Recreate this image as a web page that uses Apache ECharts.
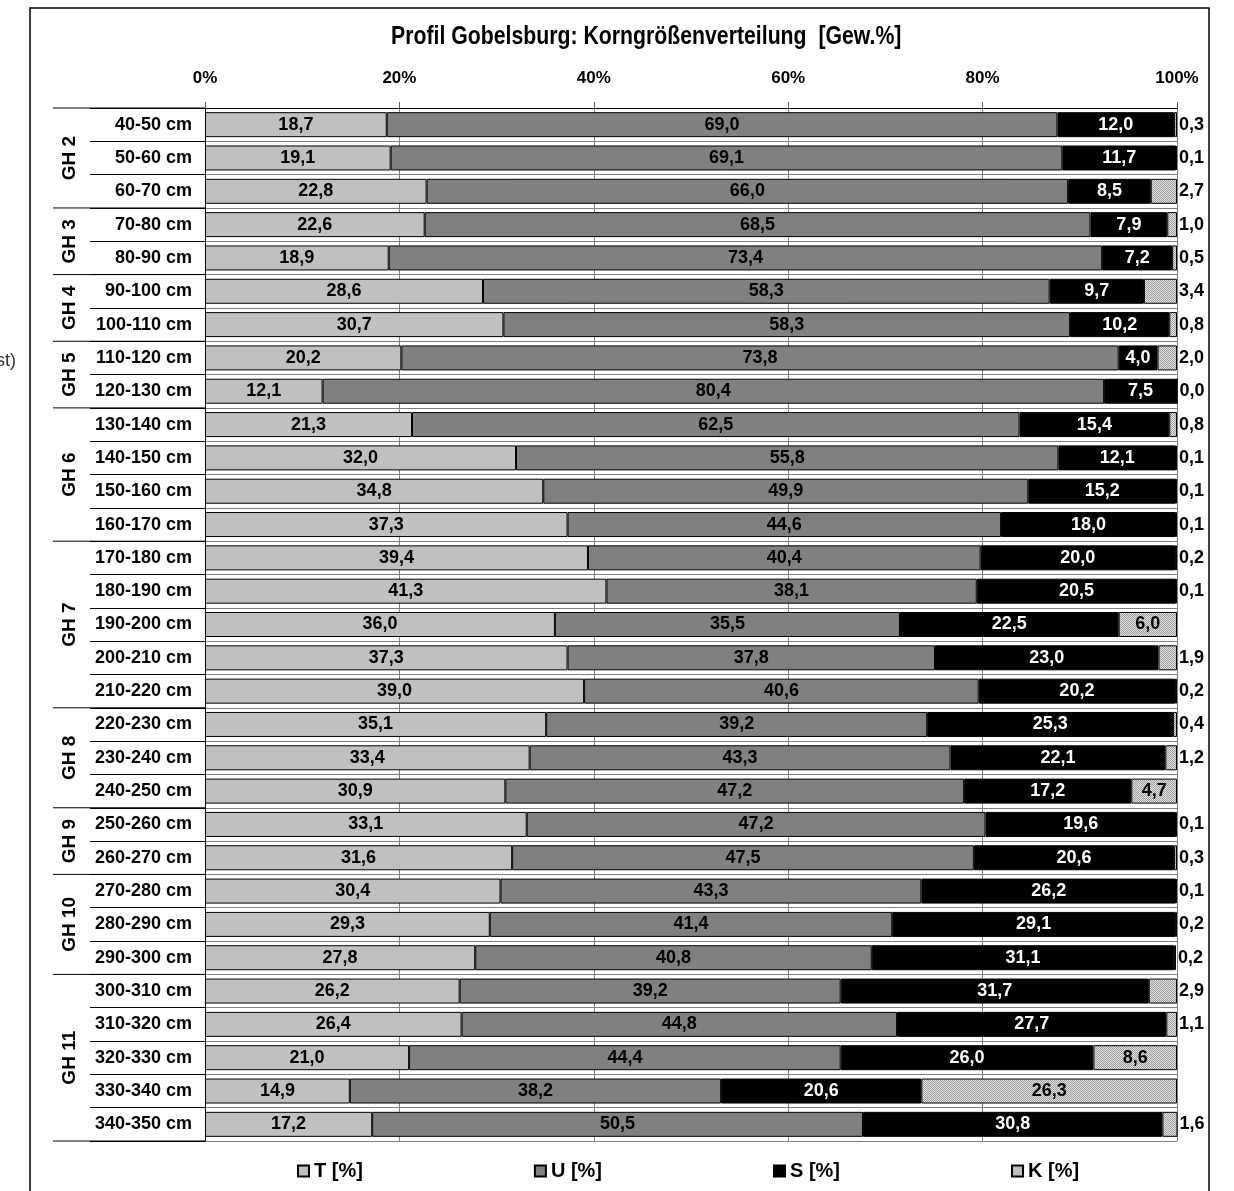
<!DOCTYPE html>
<html><head><meta charset="utf-8">
<script src="https://cdn.jsdelivr.net/npm/echarts@6/dist/echarts.min.js"></script>
<style>html,body{margin:0;padding:0;background:#fff}#c{width:1234px;height:1191px}</style>
</head><body><div id="c"></div>
<script>
const categories = ['40-50 cm','50-60 cm','60-70 cm','70-80 cm','80-90 cm','90-100 cm','100-110 cm','110-120 cm','120-130 cm','130-140 cm','140-150 cm','150-160 cm','160-170 cm','170-180 cm','180-190 cm','190-200 cm','200-210 cm','210-220 cm','220-230 cm','230-240 cm','240-250 cm','250-260 cm','260-270 cm','270-280 cm','280-290 cm','290-300 cm','300-310 cm','310-320 cm','320-330 cm','330-340 cm','340-350 cm'];
const groupNames = ['GH 2','GH 3','GH 4','GH 5','GH 6','GH 7','GH 8','GH 9','GH 10','GH 11'];
const groupSizes = [3,2,2,2,4,5,3,2,3,5];
const T = [18.7,19.1,22.8,22.6,18.9,28.6,30.7,20.2,12.1,21.3,32.0,34.8,37.3,39.4,41.3,36.0,37.3,39.0,35.1,33.4,30.9,33.1,31.6,30.4,29.3,27.8,26.2,26.4,21.0,14.9,17.2];
const U = [69.0,69.1,66.0,68.5,73.4,58.3,58.3,73.8,80.4,62.5,55.8,49.9,44.6,40.4,38.1,35.5,37.8,40.6,39.2,43.3,47.2,47.2,47.5,43.3,41.4,40.8,39.2,44.8,44.4,38.2,50.5];
const S = [12.0,11.7,8.5,7.9,7.2,9.7,10.2,4.0,7.5,15.4,12.1,15.2,18.0,20.0,20.5,22.5,23.0,20.2,25.3,22.1,17.2,19.6,20.6,26.2,29.1,31.1,31.7,27.7,26.0,20.6,30.8];
const K = [0.3,0.1,2.7,1.0,0.5,3.4,0.8,2.0,0.0,0.8,0.1,0.1,0.1,0.2,0.1,6.0,1.9,0.2,0.4,1.2,4.7,0.1,0.3,0.1,0.2,0.2,2.9,1.1,8.6,26.3,1.6];
const seriesNames = ['T [%]','U [%]','S [%]','K [%]'];
const xTickLabels = ['0%','20%','40%','60%','80%','100%'];
const titleText = 'Profil Gobelsburg: Korngrößenverteilung  [Gew.%]';

const FONT = '"Liberation Sans", Arial, sans-serif';
const pc = document.createElement('canvas'); pc.width = 2; pc.height = 2;
const g2 = pc.getContext('2d');
g2.fillStyle = '#e4e4e4'; g2.fillRect(0,0,2,2);
g2.fillStyle = '#9c9c9c'; g2.fillRect(0,0,1,1); g2.fillRect(1,1,1,1);
const kPattern = {image: pc, repeat: 'repeat'};

const fmt = p => Number(p.value).toFixed(1).replace('.', ',');
const lbl = (color) => ({show: true, position: 'inside', color: color, fontFamily: FONT, fontWeight: 'bold', fontSize: 18, formatter: fmt});
const ist = (c) => ({color: c, borderColor: '#000', borderWidth: 1});

const chart = echarts.init(document.getElementById('c'), null, {renderer: 'canvas'});
const GL = 205, GT = 108, GR = 1177, GB = 1141;
chart.setOption({
  animation: false,
  backgroundColor: '#fff',
  textStyle: {fontFamily: FONT},
  legend: {data: seriesNames, left: 292, top: 1156, icon: 'rect', itemWidth: 11, itemHeight: 11, itemGap: 171,
    textStyle: {fontFamily: FONT, fontWeight: 'bold', fontSize: 20, color: '#000'}},
  grid: {left: GL, top: GT, right: 1234 - GR, bottom: 1191 - GB, containLabel: false},
  xAxis: {type: 'value', position: 'top', min: 0, max: 100, interval: 20,
    axisLine: {show: true, lineStyle: {color: '#000', width: 1}},
    axisTick: {show: true, length: 6, lineStyle: {color: '#555'}},
    splitLine: {show: true, lineStyle: {color: '#808080', width: 1}},
    axisLabel: {margin: 21, color: '#000', fontFamily: FONT, fontWeight: 'bold', fontSize: 17,
      formatter: v => xTickLabels[Math.round(v / 20)]}},
  yAxis: {type: 'category', inverse: true, data: categories,
    axisLine: {show: true, lineStyle: {color: '#000', width: 1}},
    axisTick: {show: true, length: 115, lineStyle: {color: '#000', width: 1}},
    splitLine: {show: true, lineStyle: {color: '#808080', width: 1}},
    axisLabel: {margin: 13, color: '#000', fontFamily: FONT, fontWeight: 'bold', fontSize: 18}},
  series: [
    {name: seriesNames[0], type: 'bar', stack: 'a', barWidth: 25, data: T, itemStyle: ist('#c0c0c0'), label: lbl('#000')},
    {name: seriesNames[1], type: 'bar', stack: 'a', barWidth: 25, data: U, itemStyle: ist('#808080'), label: lbl('#000')},
    {name: seriesNames[2], type: 'bar', stack: 'a', barWidth: 25, data: S, itemStyle: ist('#000'), label: lbl('#fff')},
    {name: seriesNames[3], type: 'bar', stack: 'a', barWidth: 25, itemStyle: ist(kPattern),
      label: lbl('#000'),
      data: K.map(v => v >= 4 ? {value: v} : {value: v, label: {position: 'right', distance: 2}})}
  ]
});

const centers = categories.map(c => chart.convertToPixel({yAxisIndex: 0}, c));
const band = centers[1] - centers[0];
const gfx = [
  {type: 'rect', shape: {x: 30, y: 8, width: 1179, height: 1200}, style: {fill: 'none', stroke: '#000', lineWidth: 1.5}, z: 100},
  {type: 'text', x: 391, y: 37, scaleX: 0.85, style: {text: titleText, fontFamily: FONT, fontWeight: 'bold', fontSize: 25, fill: '#000', align: 'left', verticalAlign: 'middle'}},
  {type: 'text', x: 16, y: 361, style: {text: 'st)', fontFamily: FONT, fontSize: 18, fill: '#333', align: 'right', verticalAlign: 'middle'}}
];
let idx = 0;
groupNames.forEach((name, gi) => {
  const s = idx, e = idx + groupSizes[gi] - 1;
  const yTop = centers[s] - band / 2, yBot = centers[e] + band / 2;
  gfx.push({type: 'line', shape: {x1: 53, y1: yTop, x2: GL, y2: yTop}, style: {stroke: '#000', lineWidth: 1}});
  if (gi === groupNames.length - 1) gfx.push({type: 'line', shape: {x1: 53, y1: yBot, x2: GL, y2: yBot}, style: {stroke: '#000', lineWidth: 1}});
  gfx.push({type: 'text', x: 70, y: (yTop + yBot) / 2, rotation: Math.PI / 2,
    style: {text: name, fontFamily: FONT, fontWeight: 'bold', fontSize: 19, fill: '#000', align: 'center', verticalAlign: 'middle'}});
  idx = e + 1;
});
chart.setOption({graphic: gfx});
</script></body></html>
